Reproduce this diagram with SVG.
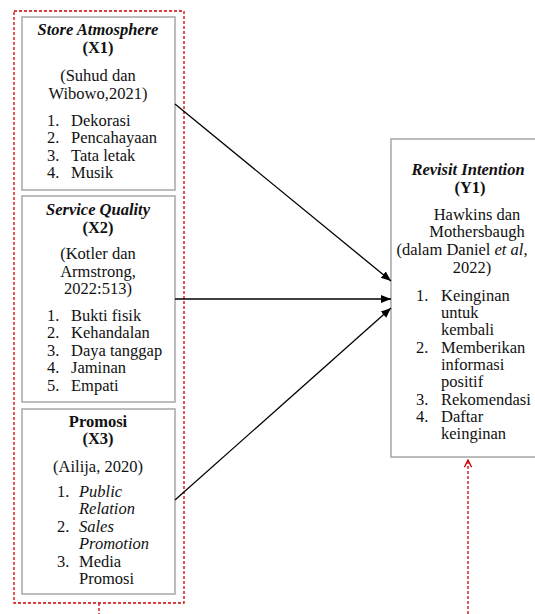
<svg xmlns="http://www.w3.org/2000/svg" width="535" height="614" viewBox="0 0 535 614">
<style>
text{font-family:"Liberation Serif","Times New Roman",serif;font-size:16.5px;fill:#111}
.c{text-anchor:middle}
.bi{font-weight:bold;font-style:italic}
.b{font-weight:bold}
.i{font-style:italic}
.box{fill:#fff;stroke:#a6a6a6;stroke-width:1.5}
.red{fill:none;stroke:#d00000;stroke-width:1.3;stroke-dasharray:3,2}
.arr{stroke:#000;stroke-width:1.3;fill:none;marker-end:url(#ah)}
</style>
<defs>
<marker id="ah" viewBox="0 0 10 10" refX="10" refY="5" markerWidth="10" markerHeight="10" markerUnits="userSpaceOnUse" orient="auto">
<path d="M0,1 L10,5 L0,9 Z" fill="#000"/>
</marker>
<marker id="rh" viewBox="0 0 10 10" refX="9" refY="5" markerWidth="9" markerHeight="9" markerUnits="userSpaceOnUse" orient="auto">
<path d="M1,1 L9,5 L1,9" fill="none" stroke="#d00000" stroke-width="1.5"/>
</marker>
</defs>
<rect width="535" height="614" fill="#fff"/>
<g id="group-x">
<rect class="red" x="14" y="11" width="170" height="592"/>
</g>
<g id="x1">
<rect class="box" x="22" y="17" width="153" height="173"/>
<text class="c bi" x="98" y="35">Store Atmosphere</text>
<text class="c b" x="98" y="53">(X1)</text>
<text class="c" x="98" y="81">(Suhud dan</text>
<text class="c" x="98" y="99">Wibowo,2021)</text>
<text x="47" y="126">1.</text><text x="71" y="126">Dekorasi</text>
<text x="47" y="143">2.</text><text x="71" y="143">Pencahayaan</text>
<text x="47" y="161">3.</text><text x="71" y="161">Tata letak</text>
<text x="47" y="178">4.</text><text x="71" y="178">Musik</text>
</g>
<g id="x2">
<rect class="box" x="22" y="196" width="153" height="206"/>
<text class="c bi" x="98" y="215">Service Quality</text>
<text class="c b" x="98" y="233">(X2)</text>
<text class="c" x="98" y="259">(Kotler dan</text>
<text class="c" x="98" y="277">Armstrong,</text>
<text class="c" x="98" y="294">2022:513)</text>
<text x="47" y="321">1.</text><text x="71" y="321">Bukti fisik</text>
<text x="47" y="338">2.</text><text x="71" y="338">Kehandalan</text>
<text x="47" y="356">3.</text><text x="71" y="356">Daya tanggap</text>
<text x="47" y="373">4.</text><text x="71" y="373">Jaminan</text>
<text x="47" y="391">5.</text><text x="71" y="391">Empati</text>
</g>
<g id="x3">
<rect class="box" x="22" y="409" width="153" height="185"/>
<text class="c b" x="98" y="427">Promosi</text>
<text class="c b" x="98" y="444">(X3)</text>
<text class="c" x="98" y="472">(Ailija, 2020)</text>
<text x="57" y="497">1.</text><text class="i" x="79" y="497">Public</text>
<text class="i" x="79" y="514">Relation</text>
<text x="57" y="532">2.</text><text class="i" x="79" y="532">Sales</text>
<text class="i" x="79" y="549">Promotion</text>
<text x="57" y="567">3.</text><text x="79" y="567">Media</text>
<text x="79" y="584">Promosi</text>
</g>
<g id="y1">
<rect class="box" x="391" y="139" width="160" height="318"/>
<text class="c bi" x="468" y="175">Revisit Intention</text>
<text class="c b" x="470" y="193">(Y1)</text>
<text class="c" x="477" y="220">Hawkins dan</text>
<text class="c" x="477" y="237">Mothersbaugh</text>
<text class="c" x="462" y="255">(dalam Daniel <tspan class="i">et al</tspan>,</text>
<text class="c" x="472" y="273">2022)</text>
<text x="416" y="301">1.</text><text x="441" y="301">Keinginan</text>
<text x="441" y="318">untuk</text>
<text x="441" y="335">kembali</text>
<text x="416" y="353">2.</text><text x="441" y="353">Memberikan</text>
<text x="441" y="370">informasi</text>
<text x="441" y="387">positif</text>
<text x="416" y="405">3.</text><text x="441" y="405">Rekomendasi</text>
<text x="416" y="422">4.</text><text x="441" y="422">Daftar</text>
<text x="441" y="439">keinginan</text>
</g>
<g id="connectors">
<line class="arr" x1="175" y1="104" x2="391" y2="281"/>
<line class="arr" x1="175" y1="299" x2="391" y2="299"/>
<line class="arr" x1="175" y1="500" x2="391" y2="308"/>
<line class="red" x1="99" y1="603" x2="99" y2="614"/>
<line class="red" x1="468" y1="614" x2="468" y2="460" marker-end="url(#rh)"/>
</g>
</svg>
